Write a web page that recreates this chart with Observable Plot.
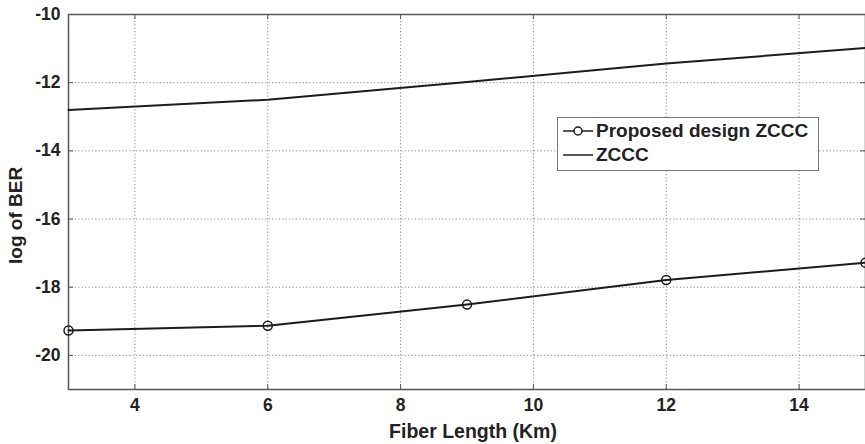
<!DOCTYPE html>
<html>
<head>
<meta charset="utf-8">
<script src="https://cdn.jsdelivr.net/npm/d3@7"></script>
<script src="https://cdn.jsdelivr.net/npm/@observablehq/plot@0.6"></script>
<style>
  html, body { margin: 0; padding: 0; background: #fff; }
  #wrap { position: relative; width: 865px; height: 444px; font-family: "Liberation Sans", Arial, sans-serif; }
  #legend {
    position: absolute; left: 557px; top: 117px; width: 262px; height: 54px;
    border: 1.5px solid #777; background: #fff; box-sizing: border-box;
    font-weight: bold; font-size: 19px; color: #222;
  }
  .row { position: absolute; left: 4px; display: flex; align-items: center; line-height: 20px; }
  .row svg { margin-right: 2px; }
</style>
</head>
<body>
<div id="wrap"></div>
<script>
// Fiber length (km) at which BER was evaluated
const fiberLength = [3, 6, 9, 12, 15];
// log10(BER) for each scheme
const proposedZCCC = [-19.27, -19.13, -18.51, -17.79, -17.28];
const zccc = [-12.8, -12.5, -11.98, -11.44, -10.98];

const xTicks = [4, 6, 8, 10, 12, 14];
const yTicks = [-10, -12, -14, -16, -18, -20];

const proposedRows = fiberLength.map((x, i) => ({x, y: proposedZCCC[i]}));
const zcccRows = fiberLength.map((x, i) => ({x, y: zccc[i]}));

const W = 865, H = 444;
const mL = 68, mR = 0, mT = 14, mB = 55;
const innerW = W - mL - mR, innerH = H - mT - mB;
const tick = 5;
const ink = "#1c1c1c";
const hyphen = d => String(d); // plain hyphen-minus, as in the printed figure

const chart = Plot.plot({
  width: W, height: H,
  marginLeft: mL, marginRight: mR, marginTop: mT, marginBottom: mB,
  style: {fontFamily: "'Liberation Sans', Arial, sans-serif", background: "#fff", overflow: "visible"},
  x: {domain: [3, 15]},
  y: {domain: [-21, -10]},
  marks: [
    // dotted grid
    Plot.ruleX(xTicks, {x: d => d, stroke: "#8a8a8a", strokeDasharray: "1.2,2.2", strokeWidth: 1}),
    Plot.ruleY(yTicks, {y: d => d, stroke: "#8a8a8a", strokeDasharray: "1.2,2.2", strokeWidth: 1}),
    // inward tick marks on all four sides
    Plot.ruleX(xTicks, {x: d => d, insetTop: innerH - tick, stroke: "#555"}),
    Plot.ruleX(xTicks, {x: d => d, insetBottom: innerH - tick, stroke: "#555"}),
    Plot.ruleY(yTicks, {y: d => d, insetRight: innerW - tick, stroke: "#555"}),
    Plot.ruleY(yTicks, {y: d => d, insetLeft: innerW - tick, stroke: "#555"}),
    Plot.frame({stroke: "#555", strokeWidth: 1.5}),
    // series
    Plot.line(zcccRows, {x: "x", y: "y", stroke: ink, strokeWidth: 2}),
    Plot.line(proposedRows, {x: "x", y: "y", stroke: ink, strokeWidth: 2}),
    Plot.dot(proposedRows, {x: "x", y: "y", r: 4.5, stroke: ink, strokeWidth: 1.5, fill: "none"}),
    // tick labels
    Plot.axisX(xTicks, {tickSize: 0, tickPadding: 9, fontSize: 17.5, fontWeight: "bold", fill: "#222", label: null, tickFormat: hyphen}),
    Plot.axisY(yTicks, {tickSize: 0, tickPadding: 8, fontSize: 17.5, fontWeight: "bold", fill: "#222", label: null, tickFormat: hyphen}),
    // axis titles
    Plot.text(["Fiber Length (Km)"], {frameAnchor: "bottom", dx: 6, dy: 48, fontSize: 19.5, fontWeight: "bold", fill: "#222"}),
    Plot.text(["log of BER"], {frameAnchor: "left", dx: -53, dy: 62, rotate: -90, fontSize: 19, fontWeight: "bold", fill: "#222"})
  ]
});

const wrap = document.getElementById("wrap");
wrap.appendChild(chart);

const legend = document.createElement("div");
legend.id = "legend";
legend.innerHTML = `
  <div class="row" style="top:3px;">
    <svg width="32" height="20"><line x1="1" y1="10" x2="31" y2="10" stroke="${ink}" stroke-width="1.5"/><circle cx="16" cy="10" r="4" fill="#fff" stroke="${ink}" stroke-width="1.5"/></svg>
    <span>Proposed design ZCCC</span>
  </div>
  <div class="row" style="top:27px;">
    <svg width="32" height="20"><line x1="1" y1="10" x2="31" y2="10" stroke="${ink}" stroke-width="1.5"/></svg>
    <span>ZCCC</span>
  </div>`;
wrap.appendChild(legend);
</script>
</body>
</html>
